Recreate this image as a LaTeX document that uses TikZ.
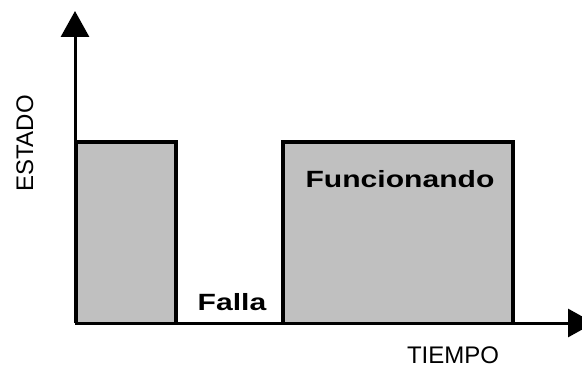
\documentclass[tikz,border=0pt]{standalone}
\usepackage{fontspec}
\setmainfont{Liberation Sans}
\usetikzlibrary{arrows.meta}
\begin{document}
\begin{tikzpicture}[x=1pt,y=-1pt,
  axisline/.style={line width=3pt,-{Triangle[length=26pt,width=28pt]}},
  statebox/.style={draw=black,line width=3.2pt,fill=statefill},
  boldlabel/.style={font=\fontsize{23.5}{26}\selectfont\bfseries,xscale=1.28,anchor=base,inner sep=0pt},
  axislabel/.style={font=\fontsize{24}{26}\selectfont,anchor=base,inner sep=0pt,text depth=0pt}]
\definecolor{statefill}{HTML}{C0C0C0}
\useasboundingbox (0,0) rectangle (582,369);
% origin and axis ends
\coordinate (o) at (75,323);
\coordinate (ytip) at (75,11);
\coordinate (xtip) at (594,323);
% state blocks
\draw[statebox] (76.5,323) -- (76.5,142) -- (176,142) -- (176,323);
\draw[statebox] (283,323) -- (283,142) -- (513,142) -- (513,323);
% axes
\draw[axisline] (o) -- (ytip);
\draw[axisline] (o) -- (xtip);
% labels
\node[boldlabel] (fun) at (400,187) {Funcionando};
\node[boldlabel] (fal) at (232,310) {Falla};
\node[axislabel] (tie) at (453,363.5) {TIEMPO};
\node[axislabel,rotate=90] (est) at (33,143.5) {ESTADO};
\end{tikzpicture}
\end{document}
